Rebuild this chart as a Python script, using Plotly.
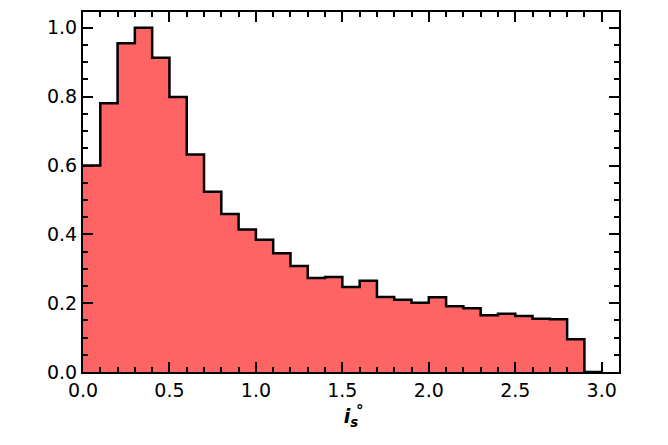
import plotly.graph_objects as go

bin_width = 0.1
bin_start = 0.0
values = [0.600, 0.781, 0.955, 1.000, 0.913, 0.799, 0.632, 0.524, 0.459, 0.414,
          0.384, 0.345, 0.308, 0.273, 0.276, 0.247, 0.265, 0.218, 0.210, 0.201,
          0.217, 0.191, 0.185, 0.165, 0.169, 0.163, 0.155, 0.153, 0.095, 0.0]

edges = [round(bin_start + i * bin_width, 3) for i in range(len(values) + 1)]
ys = values + [values[-1]]

FONT = "DejaVu Sans"

fig = go.Figure()
fig.add_trace(go.Scatter(
    x=edges, y=ys, mode="lines", line=dict(shape="hv", color="black", width=2.5),
    fill="tozeroy", fillcolor="#FF6464", showlegend=False, hoverinfo="skip"))

axis_common = dict(
    showgrid=False, zeroline=False, showline=True, linecolor="black", linewidth=2,
    mirror="allticks", ticks="inside", ticklen=10, tickwidth=2, tickcolor="black",
    tickfont=dict(family=FONT, size=19, color="black"),
)
fig.update_xaxes(range=[0, 3.1], tickvals=[0, 0.5, 1.0, 1.5, 2.0, 2.5, 3.0],
                 ticktext=["0.0", "0.5", "1.0", "1.5", "2.0", "2.5", "3.0"],
                 minor=dict(dtick=0.1, tick0=0, ticks="inside", ticklen=5, tickwidth=2, tickcolor="black"),
                 title=dict(text="<b><i>i</i></b><sub><b><i>s</i></b></sub>",
                            font=dict(family=FONT, size=19, color="black"), standoff=10),
                 **axis_common)
fig.update_yaxes(range=[0, 1.046], tickvals=[0, 0.2, 0.4, 0.6, 0.8, 1.0],
                 ticktext=["0.0", "0.2", "0.4", "0.6", "0.8", "1.0"],
                 minor=dict(dtick=0.05, tick0=0, ticks="inside", ticklen=5, tickwidth=2, tickcolor="black"),
                 **axis_common)
fig.add_annotation(text="<b>°</b>", x=0.5, y=-0.14, xref="paper", yref="paper",
                   xshift=9, showarrow=False, font=dict(family=FONT, size=15, color="black"))

fig.update_layout(width=660, height=437, margin=dict(l=75, r=49, t=2, b=73),
                  plot_bgcolor="white", paper_bgcolor="white")
fig.write_html("out.html")
